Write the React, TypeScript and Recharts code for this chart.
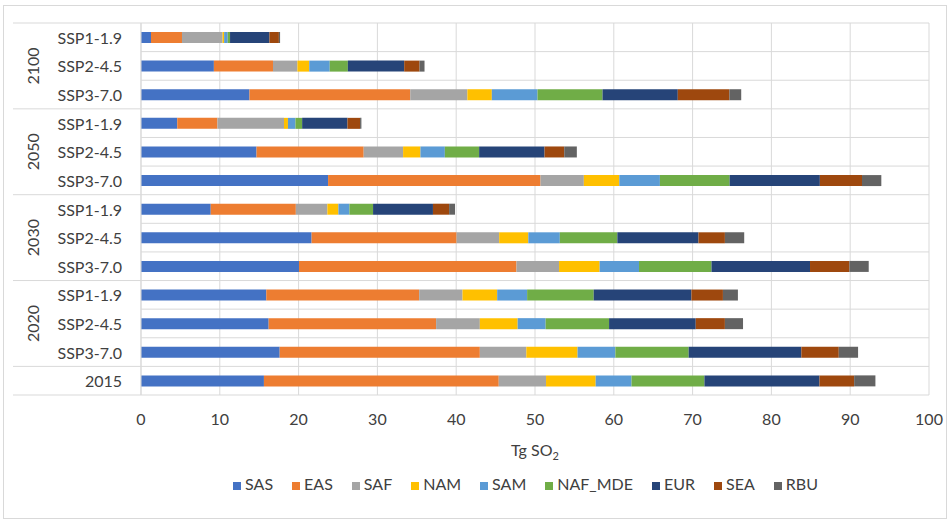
import React from "react";
import {
  BarChart, Bar, XAxis, YAxis, CartesianGrid, Legend,
} from "recharts";

// rows top -> bottom
const groups = ["2100", "2100", "2100", "2050", "2050", "2050", "2030", "2030", "2030", "2020", "2020", "2020", ""];
const scenarios = ["SSP1-1.9", "SSP2-4.5", "SSP3-7.0", "SSP1-1.9", "SSP2-4.5", "SSP3-7.0", "SSP1-1.9", "SSP2-4.5", "SSP3-7.0", "SSP1-1.9", "SSP2-4.5", "SSP3-7.0", "2015"];

// Tg SO2 per region
const SAS = [1.27, 9.25, 13.77, 4.6, 14.66, 23.74, 8.85, 21.65, 20.05, 15.9, 16.2, 17.6, 15.6];
const EAS = [3.93, 7.5, 20.4, 5.1, 13.6, 26.96, 10.8, 18.4, 27.6, 19.4, 21.25, 25.4, 29.8];
const SAF = [5.15, 3.1, 7.25, 8.45, 5.0, 5.5, 4.0, 5.4, 5.4, 5.5, 5.55, 5.9, 6.0];
const NAM = [0.2, 1.5, 3.1, 0.5, 2.2, 4.5, 1.4, 3.7, 5.15, 4.4, 4.8, 6.5, 6.3];
const SAM = [0.45, 2.6, 5.8, 0.95, 3.1, 5.15, 1.4, 4.0, 5.0, 3.8, 3.55, 4.8, 4.55];
const NAF_MDE = [0.3, 2.3, 8.25, 0.85, 4.35, 8.85, 3.0, 7.3, 9.2, 8.45, 8.05, 9.3, 9.25];
const EUR = [5.0, 7.15, 9.55, 5.75, 8.3, 11.45, 7.6, 10.3, 12.5, 12.4, 11.0, 14.3, 14.6];
const SEA = [1.2, 1.95, 6.55, 1.6, 2.5, 5.35, 2.05, 3.35, 5.0, 4.0, 3.7, 4.75, 4.4];
const RBU = [0.15, 0.63, 1.5, 0.17, 1.6, 2.45, 0.75, 2.45, 2.45, 1.9, 2.3, 2.45, 2.7];

const xTicks = [0, 10, 20, 30, 40, 50, 60, 70, 80, 90, 100];

const series = [
  { key: "SAS", values: SAS, color: "#4472C4" },
  { key: "EAS", values: EAS, color: "#ED7D31" },
  { key: "SAF", values: SAF, color: "#A5A5A5" },
  { key: "NAM", values: NAM, color: "#FFC000" },
  { key: "SAM", values: SAM, color: "#5B9BD5" },
  { key: "NAF_MDE", values: NAF_MDE, color: "#70AD47" },
  { key: "EUR", values: EUR, color: "#264478" },
  { key: "SEA", values: SEA, color: "#9E480E" },
  { key: "RBU", values: RBU, color: "#636363" },
];

const data = scenarios.map((s, i) => {
  const row: Record<string, any> = { id: `${groups[i]}|${s}` };
  series.forEach((sr) => { row[sr.key] = sr.values[i]; });
  return row;
});

const FONT = "Lato, 'Open Sans', sans-serif";
const TEXT = "#404040";
const GRID = "#d9d9d9";

function CategoryTick(props: any) {
  const { x, y, payload } = props;
  const i = props.index ?? payload.index;
  const half = payload.offset || 14.3;
  const g = groups[i];
  const members = groups.map((v, k) => (v === g ? k : -1)).filter((k) => k >= 0);
  const isMid = g !== "" && members[Math.floor(members.length / 2)] === i;
  const isFirst = i === 0 || groups[i - 1] !== g;
  const isLast = i === groups.length - 1;
  return (
    <g>
      <text x={x - 19} y={y} textAnchor="end" dominantBaseline="central"
        fill={TEXT} fontSize={16} fontFamily={FONT}>
        {scenarios[i]}
      </text>
      {isMid && (
        <text x={29} y={y} textAnchor="middle" dominantBaseline="central"
          transform={`rotate(-90, 29, ${y})`} fill={TEXT} fontSize={16} fontFamily={FONT}>
          {g}
        </text>
      )}
      {isFirst && <line x1={9} x2={x} y1={y - half} y2={y - half} stroke={GRID} />}
      {isLast && <line x1={9} x2={x} y1={y + half} y2={y + half} stroke={GRID} />}
    </g>
  );
}

function AxisTitle(props: any) {
  const vb = props.viewBox || { x: 137, y: 389, width: 788 };
  const cx = vb.x + vb.width / 2;
  return (
    <text x={cx} y={vb.y + 61} textAnchor="middle" fill={TEXT} fontSize={16} fontFamily={FONT}>
      Tg SO
      <tspan fontSize={11} dy={4}>2</tspan>
    </text>
  );
}

const legendOrder = (item: any) => series.findIndex((s) => s.key === item.dataKey);

export default function App() {
  const W = 942;
  const H = 512;
  return (
    <div style={{
      position: "absolute", left: 3, top: 5, width: 944, height: 514,
      boxSizing: "border-box", border: `1px solid ${GRID}`, background: "#fff", fontFamily: FONT,
    }}>
      <BarChart width={W} height={H} data={data} layout="vertical"
        margin={{ top: 17, right: 17, left: 0, bottom: 25 }} barSize={11}>
        <CartesianGrid stroke={GRID} strokeWidth={1}
          horizontalCoordinatesGenerator={(p: any) => {
            const off = p.offset || { top: 17, height: 372 };
            return data.map((_, k) => off.top + (k * off.height) / data.length)
              .concat(off.top + off.height);
          }} />
        <XAxis type="number" domain={[0, 100]} ticks={xTicks} interval={0}
          axisLine={false} tickLine={false} tickSize={0} tickMargin={19} height={79}
          tick={{ fill: TEXT, fontSize: 16, fontFamily: FONT }}
          label={<AxisTitle />} />
        <YAxis type="category" dataKey="id" width={137} interval={0}
          axisLine={{ stroke: GRID }} tickLine={false} tickSize={0} tickMargin={0}
          tick={<CategoryTick />} />
        <Legend verticalAlign="bottom" iconType="square" iconSize={8}
          itemSorter={legendOrder}
          wrapperStyle={{ left: 137, width: 788, fontSize: 16, fontFamily: FONT }}
          formatter={(v: string) => <span style={{ color: TEXT, marginRight: 9 }}>{v}</span>} />
        {series.map((s) => (
          <Bar key={s.key} dataKey={s.key} stackId="a" fill={s.color} isAnimationActive={false} />
        ))}
      </BarChart>
    </div>
  );
}
